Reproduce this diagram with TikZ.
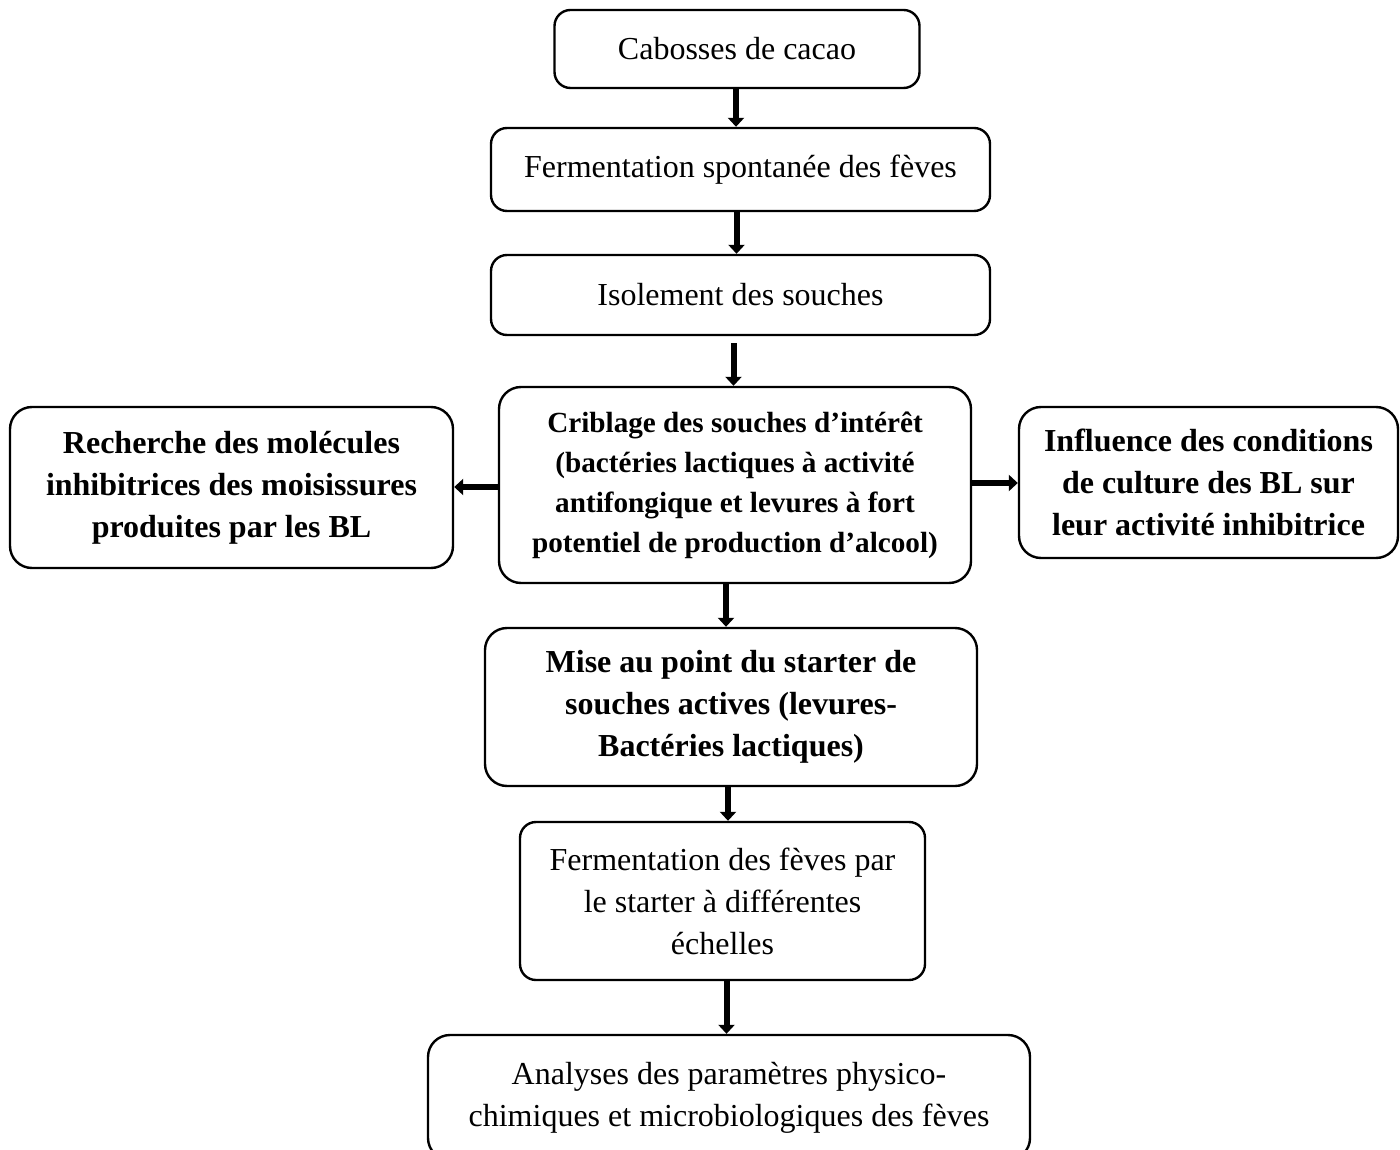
\documentclass[tikz,border=0pt]{standalone}
\usepackage{fontspec}
\setmainfont{Liberation Serif}
\usetikzlibrary{arrows.meta}
\begin{document}
\begin{tikzpicture}[x=0.5pt,y=-0.5pt,line width=1.2pt,
  box/.style={draw,rounded corners=8pt,align=center,inner sep=2pt,
    font=\fontsize{16}{21}\selectfont},
  bbox/.style={box,rounded corners=11pt,font=\fontsize{16}{21}\selectfont\bfseries},
  fleche/.style={line width=3pt,-{Triangle[width=8pt,length=4.5pt]}}]

      \useasboundingbox (0,0) rectangle (1400,1149);

      \path (737,49) node[box,minimum width=182.5pt,minimum height=39pt] (1) {Cabosses de cacao};
      \path (740.5,169.5) node[box,minimum width=249.5pt,minimum height=41.5pt] (2) {Fermentation spontanée des fèves};
      \path (740.5,295) node[box,minimum width=249.5pt,minimum height=40pt] (3) {Isolement des souches};
      \path (735,485) node[bbox,minimum width=236pt,minimum height=98pt,
        font=\fontsize{14.6}{20}\selectfont\bfseries] (4)
        {Criblage des souches d’intérêt\\(bactéries lactiques à activité\\antifongique et levures à fort\\potentiel de production d’alcool)};
      \path (231.5,487.5) node[bbox,minimum width=221.5pt,minimum height=80.5pt] (5)
        {Recherche des molécules\\inhibitrices des moisissures\\produites par les BL};
      \path (1208.5,482.5) node[bbox,minimum width=189.5pt,minimum height=75.5pt] (6)
        {Influence des conditions\\de culture des BL sur\\leur activité inhibitrice};
      \path (731,707) node[bbox,minimum width=246pt,minimum height=79pt] (7)
        {Mise au point du starter de\\souches actives (levures-\\Bactéries lactiques)};
      \path (722.5,901) node[box,minimum width=202.5pt,minimum height=79pt] (8)
        {Fermentation des fèves par\\le starter à différentes\\échelles};
      \path (729,1097.5) node[box,rounded corners=11pt,minimum width=301pt,minimum height=62.5pt] (9)
        {Analyses des paramètres physico-\\chimiques et microbiologiques des fèves};

      \draw[fleche] ([xshift=-0.5pt]1.south) -- ([xshift=-0.5pt]1.south |- 2.north);
      \draw[fleche] ([xshift=-2pt]2.south) -- ([xshift=-2pt]2.south |- 3.north);
      \draw[fleche,shorten <=3.5pt] ([xshift=-3.5pt]3.south) -- ([xshift=-3.5pt]3.south |- 4.north);
      \draw[fleche] ([xshift=-4.5pt]4.south) -- ([xshift=-4.5pt]4.south |- 7.north);
      \draw[fleche] ([xshift=-1.5pt]7.south) -- ([xshift=-1.5pt]7.south |- 8.north);
      \draw[fleche] ([xshift=2pt]8.south) -- ([xshift=2pt]8.south |- 9.north);
      \draw[fleche] ([yshift=-1pt]4.west) -- ([yshift=-1pt]4.west -| 5.east);
      \draw[fleche] ([yshift=1pt]4.east) -- ([yshift=1pt]4.east -| 6.west);
   \end{tikzpicture}
\end{document}
